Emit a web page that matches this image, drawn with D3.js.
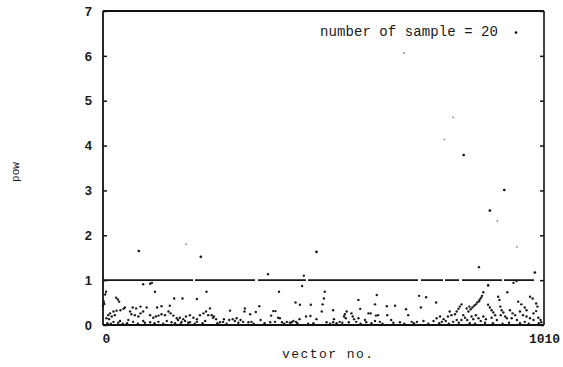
<!DOCTYPE html>
<html>
<head>
<meta charset="utf-8">
<script src="https://cdn.jsdelivr.net/npm/d3@7/dist/d3.min.js"></script>
<style>
  html, body { margin: 0; padding: 0; background: #fff; }
  svg { display: block; }
  .ytick text { font-family: "Liberation Sans", Arial, sans-serif; font-weight: bold; font-size: 13px; fill: #1a1a1a; }
  .xtick text { font-family: "Liberation Mono", "Courier New", monospace; font-weight: bold; font-size: 13px; fill: #1a1a1a; }
  .lbl { font-family: "Liberation Mono", "Courier New", monospace; fill: #1a1a1a; }
</style>
</head>
<body>
<svg id="chart" width="563" height="367"></svg>
<script>
// vector index and power of each sampled vector (main cloud)
const vecIdx = [
  0, 2, 3, 5, 7, 8, 12, 14, 16, 20, 24, 24, 27, 30, 31, 34, 37, 39, 40, 47, 50, 58, 62, 65, 68, 69, 73, 76, 81, 86, 86, 92, 92, 92,
  100, 108, 108, 108, 112, 115, 119, 121, 124, 127, 127, 134, 134, 142, 146, 150, 153, 155, 157, 161, 163, 169, 172, 176, 180,
  182, 184, 188, 190, 199, 199, 207, 215, 215, 215, 222, 230, 234, 236, 237, 241,
  245, 249, 252, 254, 259, 268, 275, 277, 289, 291, 297, 302, 306, 315, 321, 324, 325, 333, 337, 340, 350, 358, 361,
  383, 385, 390, 394, 395, 401, 403, 405, 410, 421, 432, 436, 441, 442, 450, 451, 456, 465, 475, 476, 489,
  501, 503, 506, 508, 512, 527, 527, 529, 542, 552, 554, 556, 558, 563, 569, 572, 575, 580, 585, 585, 589, 600, 603, 608, 613,
  623, 623, 625, 627, 630, 634, 650, 651, 660, 669, 680, 694, 699, 707, 719, 724, 728, 734, 740,
  757, 763, 764, 772, 776, 780, 785, 790, 794, 798, 802, 806, 810, 810, 814, 817, 821, 821, 825, 829, 833, 834, 837, 839,
  842, 844, 846, 848, 850, 854, 854, 857, 860, 861, 863, 865, 866, 868, 871, 871, 877, 882, 882, 886, 890, 890, 894, 898,
  902, 905, 908, 910, 911, 913, 917, 921, 925, 926, 932, 936, 938, 944, 948, 951, 955, 958, 962, 966, 966, 970, 970, 978,
  978, 984, 986, 986, 992, 992, 995, 997, 1002, 1004,
  882, 940, 947, 861, 378, 460,
  10, 18, 35, 45, 55, 80, 96, 118, 138, 165, 178, 195, 210, 228,
  262, 283, 310, 345, 370, 415, 428, 445, 470, 482,
  520, 535, 548, 590, 615, 640, 665, 690, 712, 745,
  770, 792, 815, 840, 852, 875, 893, 915, 930, 955, 975, 998
];
const vecPow = [
  0.43, 0.52, 0.47, 0.68, 0.74, 0.15, 0.22, 0.13, 0.26, 0.19, 0.30, 0.07, 0.22, 0.61, 0.32, 0.57, 0.52, 0.09, 0.33, 0.36, 0.39, 0.11, 0.30, 0.24, 0.39, 0.07, 0.22, 0.37, 0.19, 0.41, 0.26, 0.91, 0.30, 0.09,
  0.39, 0.92, 0.22, 0.06, 0.94, 0.16, 0.74, 0.19, 0.39, 0.21, 0.07, 0.42, 0.24, 0.22, 0.09, 0.30, 0.43, 0.26, 0.06, 0.21, 0.59, 0.15, 0.11, 0.16, 0.07,
  0.59, 0.13, 0.09, 0.19, 0.22, 0.06, 0.16, 0.58, 0.13, 0.07, 0.22, 0.26, 0.09, 0.30, 0.74, 0.22,
  0.37, 0.22, 0.16, 0.19, 0.13, 0.06, 0.07, 0.13, 0.11, 0.32, 0.13, 0.09, 0.15, 0.11, 0.07, 0.30, 0.37, 0.06, 0.24, 0.07, 0.29, 0.42, 0.11,
  0.06, 0.21, 0.31, 0.07, 0.31, 0.16, 0.74, 0.15, 0.06, 0.07, 0.06, 0.09, 0.50, 0.07, 0.13, 0.45, 0.87, 0.19, 0.20, 0.45, 0.13,
  0.30, 0.46, 0.59, 0.74, 0.06, 0.33, 0.06, 0.13, 0.07, 0.19, 0.24, 0.15, 0.30, 0.06, 0.26, 0.19, 0.13, 0.07, 0.56, 0.15, 0.36, 0.11, 0.06, 0.26, 0.26,
  0.46, 0.09, 0.21, 0.67, 0.22, 0.07, 0.42, 0.22, 0.11, 0.43, 0.06, 0.35, 0.22, 0.07, 0.07, 0.65, 0.39, 0.09, 0.62,
  0.09, 0.50, 0.15, 0.19, 0.07, 0.13, 0.09, 0.19, 0.30, 0.22, 0.07, 0.24, 0.30, 0.11, 0.36, 0.41, 0.46, 0.11, 0.22, 0.16, 0.37, 0.11, 0.30, 0.41,
  0.35, 0.19, 0.39, 0.13, 0.43, 0.46, 0.22, 0.50, 0.15, 0.53, 0.57, 0.09, 0.61, 0.65, 0.73, 0.19, 0.13, 0.45, 0.89, 0.39, 0.33, 0.16, 0.28, 0.22,
  0.11, 0.63, 0.56, 0.41, 0.22, 0.33, 0.28, 0.19, 0.15, 0.73, 0.33, 0.15, 0.26, 0.22, 0.11, 0.52, 0.30, 0.46, 0.22, 0.39, 0.07, 0.33, 0.19, 0.63,
  0.15, 0.59, 0.26, 0.11, 0.48, 0.31, 0.41, 0.16, 0.11, 0.06,
  0.88, 0.94, 0.98, 1.29, 1.13, 1.10,
  0.04, 0.03, 0.05, 0.03, 0.04, 0.03, 0.05, 0.04, 0.03, 0.04, 0.03, 0.05, 0.03, 0.04,
  0.04, 0.03, 0.05, 0.03, 0.04, 0.03, 0.05, 0.04, 0.03, 0.04,
  0.03, 0.04, 0.05, 0.03, 0.04, 0.03, 0.05, 0.03, 0.04, 0.03,
  0.04, 0.03, 0.05, 0.04, 0.03, 0.05, 0.04, 0.03, 0.05, 0.04, 0.03, 0.04
];
// isolated high-power vectors
const peakIdx = [82, 224, 489, 826, 886, 919, 989, 946];
const peakPow = [1.65, 1.52, 1.63, 3.79, 2.55, 3.01, 1.17, 6.52];
// weakly printed outliers
const lightIdx = [190, 689, 782, 802, 903, 948];
const lightPow = [1.80, 6.06, 4.14, 4.63, 2.32, 1.74];

const yTicks = [0, 1, 2, 3, 4, 5, 6, 7];
const xTicks = [0, 1010];
const threshold = 1;
const sampleNote = "number of sample = 20";

const svg = d3.select("#chart");
const m = { left: 103, right: 544, top: 11, bottom: 325 };

const x = d3.scaleLinear().domain([0, 1010]).range([m.left, m.right]);
const y = d3.scaleLinear().domain([0, 7]).range([m.bottom, m.top]);

// threshold line at pow = 1 (drawn as a dense row of samples)
svg.append("line")
  .attr("x1", x(0)).attr("x2", x(1010))
  .attr("y1", y(threshold)).attr("y2", y(threshold))
  .attr("stroke", "#161616").attr("stroke-width", 1.8)
  .attr("stroke-dasharray", "90 2 60 3 48 2 110 3 22 2 14 3 40 2 30");

function dots(xs, ys, fill, r) {
  svg.append("g").selectAll("circle")
    .data(xs.map((d, i) => [d, ys[i]]))
    .join("circle")
    .attr("cx", d => x(d[0]))
    .attr("cy", d => y(d[1]))
    .attr("r", r)
    .attr("fill", fill);
}
dots(vecIdx, vecPow, "#1a1a1a", 1.2);
dots(peakIdx, peakPow, "#111", 1.35);
dots(lightIdx, lightPow, "#8a8a8a", 0.9);

// frame
const frame = svg.append("g").attr("stroke", "#111").attr("fill", "none");
frame.append("line").attr("x1", m.left).attr("x2", m.right).attr("y1", m.top).attr("y2", m.top).attr("stroke-width", 2);
frame.append("line").attr("x1", m.left).attr("x2", m.right).attr("y1", m.bottom).attr("y2", m.bottom).attr("stroke-width", 2.2);
frame.append("line").attr("x1", m.left).attr("x2", m.left).attr("y1", m.top).attr("y2", m.bottom).attr("stroke-width", 1.8);
frame.append("line").attr("x1", m.right).attr("x2", m.right).attr("y1", m.top).attr("y2", m.bottom).attr("stroke-width", 1.6);

// axes
const yl = svg.append("g").attr("class", "ytick")
  .attr("transform", `translate(${m.left},0)`)
  .call(d3.axisLeft(y).tickValues(yTicks).tickFormat(d3.format("d")).tickSize(-4).tickPadding(11));
yl.select(".domain").remove();
yl.selectAll("line").attr("stroke", "#111").attr("stroke-width", 1.5);

const yr = svg.append("g")
  .attr("transform", `translate(${m.right},0)`)
  .call(d3.axisRight(y).tickValues(yTicks).tickFormat("").tickSize(-4));
yr.select(".domain").remove();
yr.selectAll("line").attr("stroke", "#111").attr("stroke-width", 1.5);

const xb = svg.append("g").attr("class", "xtick")
  .attr("transform", `translate(0,${m.bottom})`)
  .call(d3.axisBottom(x).tickValues(xTicks).tickFormat(d3.format("d")).tickSize(0).tickPadding(9));
xb.select(".domain").remove();
xb.selectAll("text").attr("dx", d => d === 0 ? 3 : 0);

// labels
svg.append("text").attr("class", "lbl")
  .attr("x", 282).attr("y", 358)
  .attr("font-size", 13)
  .attr("textLength", 91)
  .text("vector no.");

svg.append("text").attr("class", "lbl")
  .attr("transform", "translate(19,172) rotate(-90)")
  .attr("text-anchor", "middle").attr("font-size", 11)
  .text("pow");

svg.append("text").attr("class", "lbl")
  .attr("x", 320).attr("y", 35.5)
  .attr("font-size", 14)
  .attr("textLength", 178)
  .text(sampleNote);
</script>
</body>
</html>
